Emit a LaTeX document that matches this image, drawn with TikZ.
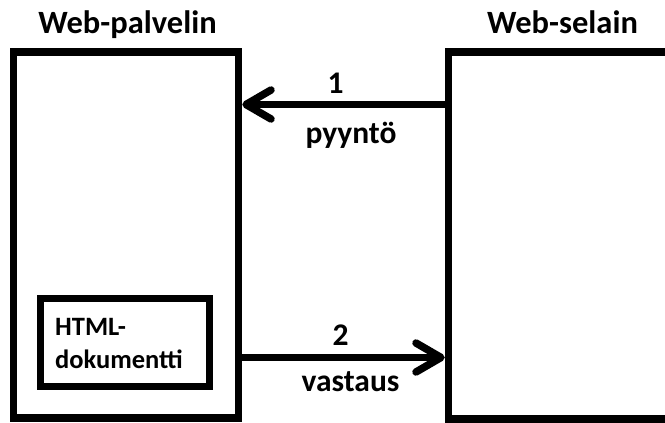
\documentclass[tikz,border=0pt]{standalone}
\usepackage{fontspec}
\setmainfont{Carlito}
\usetikzlibrary{arrows.meta}
\begin{document}
\begin{tikzpicture}[x=1pt,y=-1pt,
  frame/.style={draw, line width=7.5pt, inner sep=0pt, minimum width=#1},
  title/.style={font=\fontsize{32.5}{38}\selectfont\bfseries, anchor=base, inner sep=0pt},
  label/.style={font=\fontsize{31.5}{36}\selectfont\bfseries, anchor=base, inner sep=0pt},
  msg/.style={line width=7.5pt, -{Straight Barb[length=25pt,width=29pt,round]}}
]
\useasboundingbox (0,0) rectangle (665,423);
\fill[white] (0,0) rectangle (665,423);

% server and browser boxes
\node[frame=225pt, minimum height=366pt] (palvelin) at (126,235) {};
\node[frame=251.5pt, minimum height=367pt] (selain) at (574.25,235.5) {};

% document inside the server
\node[draw, line width=7pt, inner sep=0pt, minimum width=169pt, minimum height=88pt] (doc) at (125,342.5) {};
\node[font=\fontsize{26.5}{33}\selectfont\bfseries, anchor=base west, inner sep=0pt,
      align=left] (doctext) at (55,368) {HTML-\\dokumentti};

% titles
\node[title] (t1) at (127.5,33) {Web-palvelin};
\node[title] (t2) at (562.5,34) {Web-selain};

% request and response
\coordinate (r1) at (0,104.5);
\coordinate (r2) at (0,357.5);
\draw[msg] (selain.west |- r1) -- (palvelin.east |- r1);
\draw[msg] (palvelin.east |- r2) -- (selain.west |- r2);

\node[label] (n1) at (335.5,93) {1};
\node[label] (l1) at (351,143) {pyyntö};
\node[label] (n2) at (340.5,345) {2};
\node[label] (l2) at (350.5,391.5) {vastaus};
\end{tikzpicture}
\end{document}
